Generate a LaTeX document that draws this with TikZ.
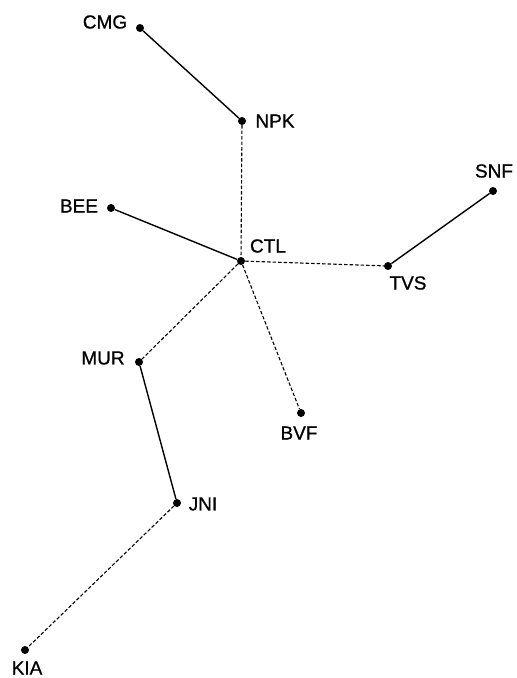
\documentclass[tikz,border=0pt]{standalone}
\usepackage{fontspec}
\setmainfont{Liberation Sans}[FakeBold=0.8]
\begin{document}
\begin{tikzpicture}[x=1pt,y=-1pt,
  dot/.style={circle,fill=black,inner sep=0pt,minimum size=8pt},
  lbl/.style={inner sep=0pt,font=\fontsize{19}{19}\selectfont},
  solidline/.style={line width=1.4pt},
  dashline/.style={line width=1.1pt,dash pattern=on 3.5pt off 2pt}]
\useasboundingbox (0,0) rectangle (517,678);
\node[dot] (CMG) at (140,28) {};
\node[dot] (NPK) at (242,121) {};
\node[dot] (BEE) at (111,208) {};
\node[dot] (CTL) at (241,261) {};
\node[dot] (TVS) at (388,266) {};
\node[dot] (SNF) at (493,191) {};
\node[dot] (MUR) at (139,362) {};
\node[dot] (BVF) at (301,413) {};
\node[dot] (JNI) at (177,503) {};
\node[dot] (KIA) at (25,650) {};
\node[lbl] (tCMG) at (105,22) {CMG};
\node[lbl] (tNPK) at (275,121) {NPK};
\node[lbl] (tBEE) at (79,206) {BEE};
\node[lbl] (tCTL) at (268,246) {CTL};
\node[lbl] (tTVS) at (408,283) {TVS};
\node[lbl] (tSNF) at (494,171) {SNF};
\node[lbl] (tMUR) at (103,358) {MUR};
\node[lbl] (tBVF) at (299,433) {BVF};
\node[lbl] (tJNI) at (203,504) {JNI};
\node[lbl] (tKIA) at (27,668) {KIA};
\draw[solidline] (CMG) -- (NPK);
\draw[dashline] (NPK) -- (CTL);
\draw[solidline] (BEE) -- (CTL);
\draw[dashline] (CTL) -- (TVS);
\draw[solidline] (TVS) -- (SNF);
\draw[dashline] (CTL) -- (MUR);
\draw[dashline] (CTL) -- (BVF);
\draw[solidline] (MUR) -- (JNI);
\draw[dashline] (JNI) -- (KIA);
\end{tikzpicture}
\end{document}
